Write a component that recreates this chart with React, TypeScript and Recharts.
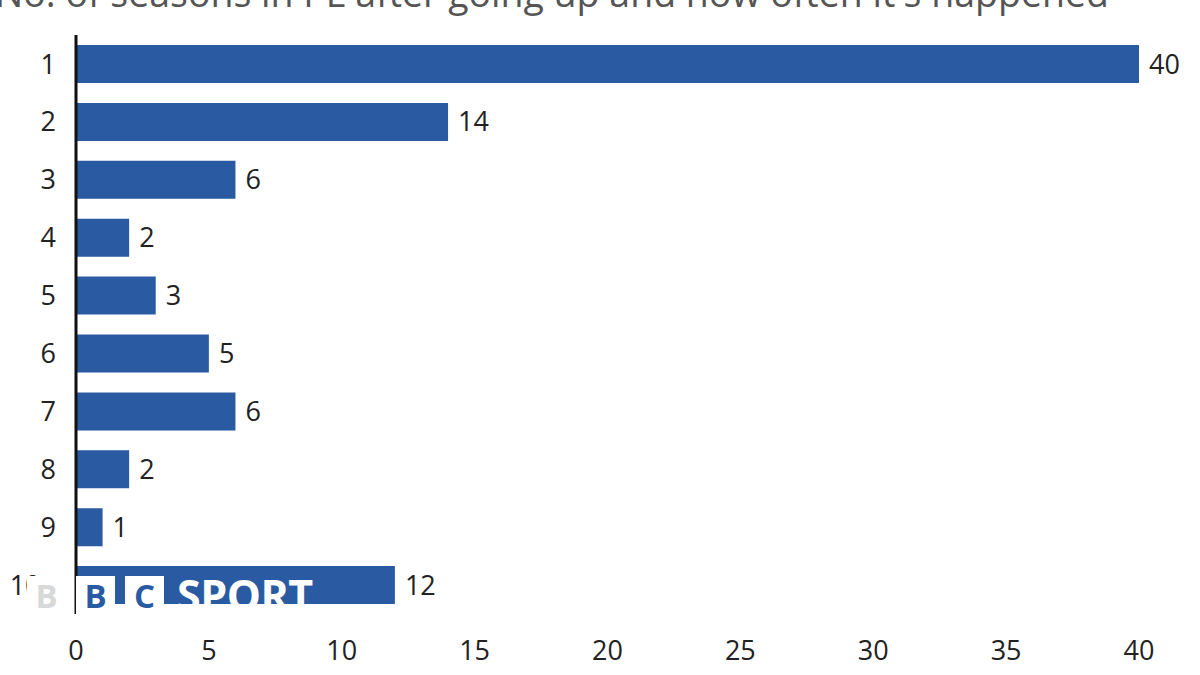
import React from 'react';
import { BarChart, Bar, XAxis, YAxis, LabelList } from 'recharts';

const seasons = ['1', '2', '3', '4', '5', '6', '7', '8', '9', '10+'];
const counts = [40, 14, 6, 2, 3, 5, 6, 2, 1, 12];
const xTicks = [0, 5, 10, 15, 20, 25, 30, 35, 40];

const data = seasons.map((s, i) => ({ seasons: s, count: counts[i] }));

const BLUE = '#2a5aa2';
const FONT = '"Open Sans", "Noto Sans", sans-serif';

const LogoBox: React.FC<{ left: number; letter: string; color: string }> = ({ left, letter, color }) => (
  <div
    style={{
      position: 'absolute', left, top: 576, width: 39, height: 39, background: '#fff',
      color, fontWeight: 700, fontSize: 33, lineHeight: '39px', textAlign: 'center', fontFamily: FONT,
    }}
  >
    {letter}
  </div>
);

const App: React.FC = () => {
  return (
    <div style={{ position: 'relative', width: 1200, height: 675, overflow: 'hidden', background: '#fff', fontFamily: FONT }}>
      <style>{'body{margin:0}'}</style>
      <div
        style={{
          position: 'absolute', left: -5, top: -28, fontSize: 37.5, lineHeight: '42px',
          color: '#555', whiteSpace: 'nowrap',
        }}
      >
        No. of seasons in PL after going up and how often it's happened
      </div>
      <BarChart
        width={1200}
        height={675}
        data={data}
        layout="vertical"
        margin={{ top: 35, right: 61, bottom: 0, left: 16 }}
        barCategoryGap={20}
      >
        <XAxis
          type="number"
          domain={[0, 40]}
          ticks={xTicks}
          axisLine={false}
          tickLine={false}
          tickMargin={21}
          height={61}
          tick={{ fill: '#222', fontSize: 27 }}
        />
        <YAxis
          type="category"
          dataKey="seasons"
          width={60}
          axisLine={{ stroke: '#111', strokeWidth: 3 }}
          tickLine={false}
          tickMargin={14}
          tick={{ fill: '#222', fontSize: 27 }}
        />
        <Bar dataKey="count" fill={BLUE} barSize={38} isAnimationActive={false}>
          <LabelList dataKey="count" position="right" offset={10} fill="#222" fontSize={27} />
        </Bar>
      </BarChart>
      <LogoBox left={27} letter="B" color="#d8d8d8" />
      <LogoBox left={76} letter="B" color={BLUE} />
      <LogoBox left={125} letter="C" color={BLUE} />
      <div
        style={{
          position: 'absolute', left: 177, top: 573, height: 44, color: '#fff', fontWeight: 700,
          fontSize: 43, lineHeight: '44px', letterSpacing: -0.5, fontFamily: FONT,
        }}
      >
        SPORT
      </div>
    </div>
  );
};

export default App;
